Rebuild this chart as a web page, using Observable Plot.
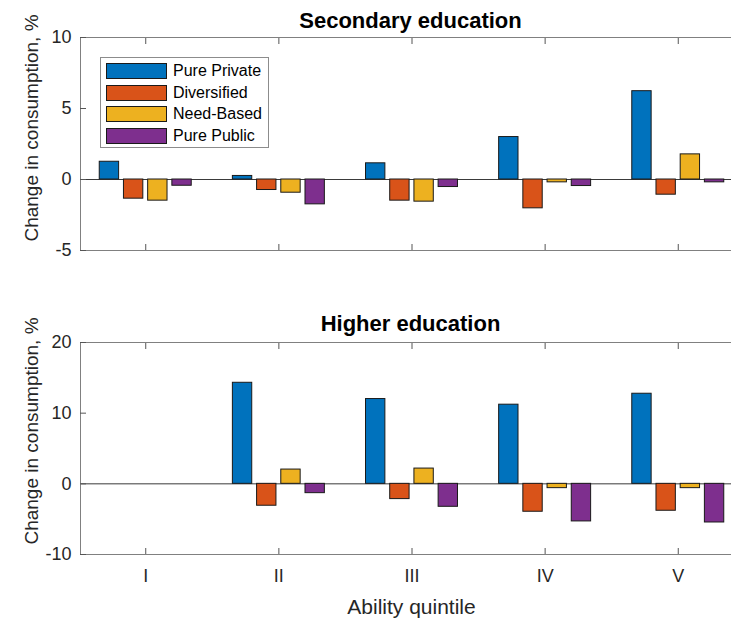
<!DOCTYPE html>
<html>
<head>
<meta charset="utf-8">
<script src="https://cdn.jsdelivr.net/npm/d3@7"></script>
<script src="https://cdn.jsdelivr.net/npm/@observablehq/plot@0.6"></script>
<style>
  html, body { margin: 0; padding: 0; background: #fff; }
  #chart { position: relative; width: 731px; height: 621px; overflow: hidden; font-family: "Liberation Sans", Arial, sans-serif; color: #262626; }
  #chart svg { max-width: none !important; }
  .abs { position: absolute; white-space: nowrap; line-height: 1; }
  .title { font-weight: bold; font-size: 22px; color: #000; transform: translate(-50%, -50%); }
  .ylab { font-size: 19px; transform: translate(-50%, -50%) rotate(-90deg); }
  .xlab { font-size: 21px; transform: translate(-50%, -50%); }
  .legend { border: 1px solid #8c8c8c; background: #fff; box-sizing: border-box; }
  .legend .row { position: absolute; left: 5px; height: 16px; display: flex; align-items: center; font-size: 16px; color: #000; }
  .legend .sw { width: 59px; height: 14px; border: 1px solid #1a1a1a; margin-right: 6px; }
</style>
</head>
<body>
<div id="chart"></div>
<script>
// ---- data ----
const quintiles = ["I", "II", "III", "IV", "V"];
const series = ["Pure Private", "Diversified", "Need-Based", "Pure Public"];
const colors = ["#0072BD", "#D95319", "#EDB120", "#7E2F8E"];

// Secondary education (% change in consumption)
const secPurePrivate = [1.25, 0.25, 1.14, 2.99, 6.22];
const secDiversified = [-1.35, -0.74, -1.49, -2.03, -1.07];
const secNeedBased   = [-1.49, -0.93, -1.56, -0.20, 1.77];
const secPurePublic  = [-0.44, -1.75, -0.53, -0.46, -0.20];

// Higher education (% change in consumption)
const higPurePrivate = [null, 14.3, 12.0, 11.2, 12.75];
const higDiversified = [null, -3.1, -2.16, -3.95, -3.81];
const higNeedBased   = [null, 2.02, 2.16, -0.61, -0.61];
const higPurePublic  = [null, -1.32, -3.25, -5.32, -5.47];

const secYTicks = [-5, 0, 5, 10];
const higYTicks = [-10, 0, 10, 20];

// ---- build tables ----
function table(arrays) {
  const rows = [];
  arrays.forEach((arr, si) => {
    arr.forEach((v, qi) => {
      if (v != null) rows.push({quintile: qi + 1, si, series: series[si], value: v});
    });
  });
  return rows;
}
const secRows = table([secPurePrivate, secDiversified, secNeedBased, secPurePublic]);
const higRows = table([higPurePrivate, higDiversified, higNeedBased, higPurePublic]);

// grouped bar geometry (MATLAB-style grouping)
const n = series.length;
const groupWidth = Math.min(0.8, n / (n + 1.5));
const step = groupWidth / n;
const barW = 0.8 * step;
const center = d => d.quintile + (d.si - (n - 1) / 2) * step;

const qTicks = quintiles.map((_, i) => i + 1);

function panel(rows, yDomain, yTicks, showXLabels, marginTop, height, marginBottom) {
  return Plot.plot({
    width: 743,
    height,
    marginLeft: 80,
    marginRight: 0,
    marginTop,
    marginBottom,
    style: {fontFamily: "Liberation Sans, Arial, sans-serif", fontSize: "18px", color: "#262626", background: "transparent", overflow: "visible", maxWidth: "none"},
    x: {domain: [0.51, 5.49]},
    y: {domain: yDomain},
    color: {domain: series, range: colors},
    marks: [
      Plot.ruleY([0], {stroke: "#3a3a3a", strokeWidth: 1}),
      Plot.rect(rows, {
        x1: d => center(d) - barW / 2,
        x2: d => center(d) + barW / 2,
        y1: d => 0,
        y2: "value",
        fill: "series",
        stroke: "#1a1a1a",
        strokeWidth: 1
      }),
      Plot.frame({stroke: "#808080", strokeWidth: 1}),
      Plot.axisY({ticks: yTicks, tickSize: 0, tickPadding: 9, label: null, fontSize: 18, tickFormat: d => String(d)}),
      Plot.axisY({ticks: yTicks, tickSize: -6, tickFormat: () => "", label: null, stroke: "#555"}),
      Plot.axisX({ticks: qTicks, anchor: "bottom", tickSize: -6, tickFormat: () => "", label: null, stroke: "#555"}),
      Plot.axisX({ticks: qTicks, anchor: "top", tickSize: -6, tickFormat: () => "", label: null, stroke: "#555"}),
      showXLabels
        ? Plot.axisX({ticks: qTicks, anchor: "bottom", tickSize: 0, tickPadding: 15, tickFormat: i => quintiles[i - 1], label: null, fontSize: 18})
        : null
    ]
  });
}

const chart = document.getElementById("chart");

function place(el, top) {
  const w = document.createElement("div");
  w.style.position = "absolute";
  w.style.left = "0px";
  w.style.top = top + "px";
  w.style.width = "743px";
  w.appendChild(el);
  chart.appendChild(w);
}

place(panel(secRows, [-5, 10], secYTicks, false, 37, 300, 50), 0);
place(panel(higRows, [-10, 20], higYTicks, true, 42, 321, 67), 300);

function text(cls, str, x, y) {
  const d = document.createElement("div");
  d.className = "abs " + cls;
  d.textContent = str;
  d.style.left = x + "px";
  d.style.top = y + "px";
  chart.appendChild(d);
  return d;
}

text("title", "Secondary education", 410.5, 20.7);
text("title", "Higher education", 410.5, 324.1);
text("ylab", "Change in consumption, %", 31.4, 127.5);
text("ylab", "Change in consumption, %", 31.4, 431);
text("xlab", "Ability quintile", 411.5, 606);

// legend
const lg = document.createElement("div");
lg.className = "abs legend";
lg.style.left = "100px";
lg.style.top = "57px";
lg.style.width = "169px";
lg.style.height = "91px";
series.forEach((s, i) => {
  const r = document.createElement("div");
  r.className = "row";
  r.style.top = (5 + i * 21.5) + "px";
  const sw = document.createElement("div");
  sw.className = "sw";
  sw.style.background = colors[i];
  const t = document.createElement("span");
  t.textContent = s;
  r.appendChild(sw);
  r.appendChild(t);
  lg.appendChild(r);
});
chart.appendChild(lg);
</script>
</body>
</html>
